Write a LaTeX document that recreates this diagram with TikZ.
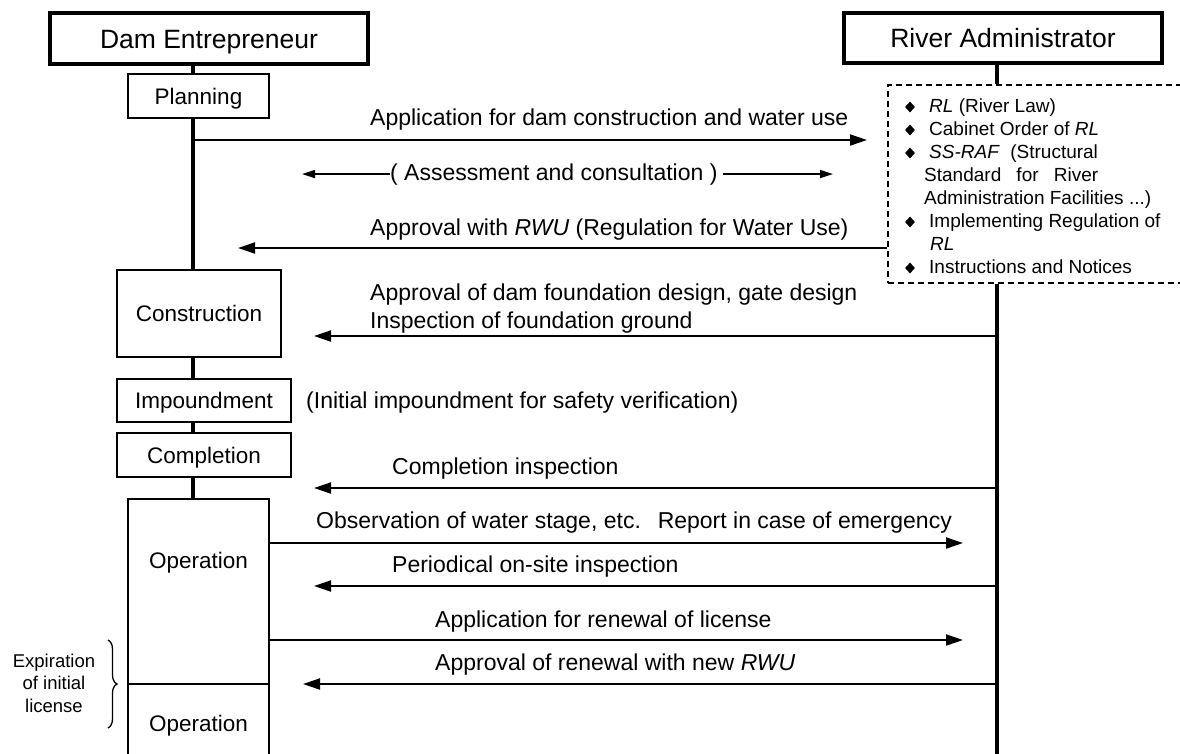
\documentclass[tikz,border=0pt]{standalone}
\usepackage{fontspec}
\setmainfont{Liberation Sans}
\usetikzlibrary{arrows.meta,shapes.geometric,decorations.pathreplacing}
\begin{document}
\begin{tikzpicture}[x=1pt,y=-1pt,
  actor/.style={draw,line width=3.5pt,inner sep=0,text height=19pt,text depth=0pt,font=\fontsize{26.5}{30}\selectfont},
  phase/.style={draw,line width=2pt,inner sep=0,text height=16pt,text depth=0pt,font=\fontsize{22.5}{26}\selectfont},
  phlabel/.style={inner sep=0,text height=16pt,text depth=0pt,font=\fontsize{22.5}{26}\selectfont},
  life/.style={line width=3.5pt},
  msg/.style={line width=2pt,-{Triangle[length=17pt,width=11pt]}},
  smallmsg/.style={line width=1.5pt,-{Triangle[length=13pt,width=8pt]}},
  msgtxt/.style={inner sep=0,anchor=base west,font=\fontsize{23}{27}\selectfont},
  lawbox/.style={draw,line width=1.4pt,dash pattern=on 6pt off 4pt,inner sep=0},
  lawtxt/.style={inner sep=0,anchor=base west,font=\fontsize{19}{22}\selectfont},
  bul/.style={diamond,fill,inner sep=0,minimum width=10pt,minimum height=11pt},
  note/.style={inner sep=0,align=center,font=\fontsize{18.5}{22.5}\selectfont}]
\useasboundingbox (0,0) rectangle (1180,753);

% actors
\node[actor,minimum width=318,minimum height=51] (de) at (209,38.5) {Dam Entrepreneur};
\node[actor,minimum width=318,minimum height=50] (ra) at (1003,38) {River Administrator};

% lifeline reference points
\coordinate (LL) at (193,0);
\coordinate (RL) at (997,0);
\coordinate (bot) at (997,760);

% phases
\node[phase,minimum width=141,minimum height=44] (plan) at (198.5,96) {Planning};
\node[phase,minimum width=164,minimum height=87] (cons) at (199,313.5) {Construction};
\node[phase,minimum width=174,minimum height=43] (imp) at (204,400.5) {Impoundment};
\node[phase,minimum width=174,minimum height=44] (comp) at (204,455) {Completion};
\node[phase,minimum width=141,minimum height=185] (op1) at (198.5,591.5) {};
\node[phlabel] (op1t) at (198.5,560) {Operation};
\node[phase,minimum width=141,minimum height=90] (op2) at (198.5,729) {};
\node[phlabel] (op2t) at (198.5,723) {Operation};

% law box
\node[lawbox,minimum width=298,minimum height=198] (law) at (1037,184) {};
\node[bul] (b1) at (910,107) {};
\node[bul] (b2) at (910,130) {};
\node[bul] (b3) at (910,153) {};
\node[bul] (b4) at (910,222) {};
\node[bul] (b5) at (910,268) {};
\node[lawtxt] (l1) at (929,112) {\textit{RL} (River Law)};
\node[lawtxt] (l2) at (929,135) {Cabinet Order of \textit{RL}};
\node[lawtxt] (l3) at (929,158) {\textit{SS-RAF}\ \ (Structural};
\node[lawtxt] (l3b) at (924,181) {\makebox[174pt][l]{Standard\hfill for\hfill River}};
\node[lawtxt] (l3c) at (924,204) {Administration Facilities ...)};
\node[lawtxt] (l4) at (929,227) {Implementing Regulation of};
\node[lawtxt] (l4b) at (930,250) {\textit{RL}};
\node[lawtxt] (l5) at (929,273) {Instructions and Notices};

% lifelines
\draw[life] (de.south -| LL) -- (plan.north -| LL);
\draw[life] (plan.south -| LL) -- (cons.north -| LL);
\draw[life] (cons.south -| LL) -- (imp.north -| LL);
\draw[life] (imp.south -| LL) -- (comp.north -| LL);
\draw[life] (comp.south -| LL) -- (op1.north -| LL);
\draw[life] (ra.south -| RL) -- (law.north -| RL);
\draw[life] (law.south -| RL) -- (bot);

% messages
\coordinate (t1) at (867,140);
\node[msgtxt] (m1) at (370,125) {Application for dam construction and water use};
\draw[msg] (LL |- t1) -- (t1);

\node[msgtxt] (m2) at (390,180) {( Assessment and consultation )};
\coordinate (t2l) at (302,173);
\coordinate (t2r) at (833,173);
\draw[smallmsg] (m2.west) -- (t2l |- m2.west);
\draw[smallmsg] ([xshift=5pt]m2.east) -- (t2r |- m2.east);

\coordinate (t3) at (238,248);
\node[msgtxt] (m3) at (370,235) {Approval with \textit{RWU} (Regulation for Water Use)};
\draw[msg] (law.west |- t3) -- (t3);

\coordinate (t4) at (314,336);
\node[msgtxt] (m4) at (370,300) {Approval of dam foundation design, gate design};
\node[msgtxt] (m4b) at (370,328) {Inspection of foundation ground};
\draw[msg] (RL |- t4) -- (t4);

\node[msgtxt] (m5) at (306,408) {(Initial impoundment for safety verification)};

\coordinate (t6) at (314,488);
\node[msgtxt] (m6) at (392,474) {Completion inspection};
\draw[msg] (RL |- t6) -- (t6);

\coordinate (t7) at (963,543);
\node[msgtxt] (m7) at (316,528) {Observation of water stage, etc.};
\node[msgtxt,anchor=base east] (m7b) at (952,528) {Report in case of emergency};
\draw[msg] (op1.east |- t7) -- (t7);

\coordinate (t8) at (314,586);
\node[msgtxt] (m8) at (392,572) {Periodical on-site inspection};
\draw[msg] (RL |- t8) -- (t8);

\coordinate (t9) at (963,640);
\node[msgtxt] (m9) at (435,627) {Application for renewal of license};
\draw[msg] (op1.east |- t9) -- (t9);

\coordinate (t10) at (303,684);
\node[msgtxt] (m10) at (435,670) {Approval of renewal with new \textit{RWU}};
\draw[msg] (RL |- t10) -- (t10);

% brace
\coordinate (br1) at (108,640);
\coordinate (br2) at (108,728);
\draw[line width=1.3pt,decorate,decoration={brace,amplitude=9pt}] (br1) -- (br2);
\node[note] (exp) at (54,683) {Expiration\\of initial\\license};
\end{tikzpicture}
\end{document}
